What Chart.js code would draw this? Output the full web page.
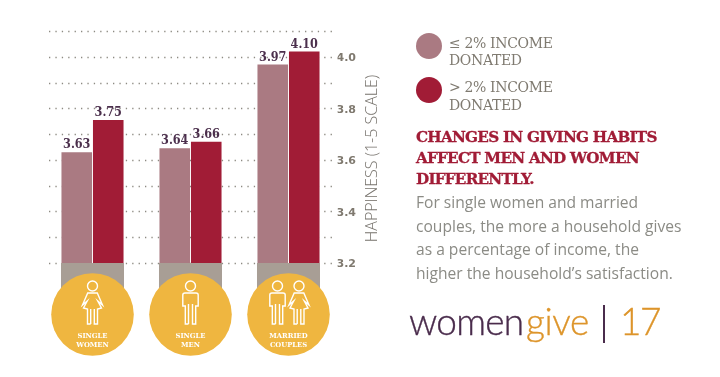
<!DOCTYPE html>
<html>
<head>
<meta charset="utf-8">
<script src="https://cdn.jsdelivr.net/npm/chart.js@4/dist/chart.umd.min.js"></script>
<style>
  html, body { margin: 0; padding: 0; background: #fff; }
  #wrap { position: relative; width: 720px; height: 377px; overflow: hidden; }
  #chart { position: absolute; left: 0; top: 0; }
  .side { position: absolute; white-space: nowrap; }
  .dot { position: absolute; left: 416px; width: 26px; height: 26px; border-radius: 50%; }
  .legendText { left: 449px; font: 14px/17.5px "DejaVu Serif"; color: #7f7a70; letter-spacing: -0.35px; }
  #heading { left: 416px; top: 126.5px; font: bold 15.2px/21.2px "DejaVu Serif"; color: #a11c36; letter-spacing: -0.75px; -webkit-text-stroke: 0.3px #a11c36; }
  #body { left: 416px; top: 191px; font: 15.6px/23.6px "Open Sans"; color: #8b8b85; }
  .logo { top: 299px; font: 300 37px/44px "Lato"; -webkit-text-stroke: 0.35px; }
  #logoWomen { left: 409px; color: #4a2c4c; letter-spacing: -0.75px; }
  #logoGive { left: 526px; color: #dd952b; letter-spacing: -0.4px; }
  #logoNum { left: 620px; color: #dd952b; letter-spacing: -1.5px; }
  #logoBar { position: absolute; left: 602.5px; top: 305px; width: 2.6px; height: 38px; background: #4a2c4c; }
</style>
</head>
<body>
<div id="wrap">
  <canvas id="chart" width="720" height="377"></canvas>
  <div id="legend"></div>
  <div id="heading" class="side"></div>
  <div id="body" class="side"></div>
  <div id="logoWomen" class="side logo">women</div>
  <div id="logoGive" class="side logo">give</div>
  <div id="logoBar"></div>
  <div id="logoNum" class="side logo">17</div>
</div>
<script>
const categories = [['SINGLE', 'WOMEN'], ['SINGLE', 'MEN'], ['MARRIED', 'COUPLES']];
const icons = [['woman'], ['man'], ['man', 'woman']];
const seriesNames = [['≤ 2% INCOME', 'DONATED'], ['> 2% INCOME', 'DONATED']];

// bar heights as drawn; the 4.10 bar only reaches about 4.02 on the printed scale
const lowGiving = [3.63, 3.645, 3.97];
const highGiving = [3.755, 3.67, 4.02];
const lowLabels = ['3.63', '3.64', '3.97'];
const highLabels = ['3.75', '3.66', '4.10'];
const stubs = [[3.0, 3.2], [3.0, 3.2], [3.0, 3.2]];

const tickLabels = { '3.2': '3.2', '3.4': '3.4', '3.6': '3.6', '3.8': '3.8', '4.0': '4.0' };
const axisTitle = 'HAPPINESS (1-5 SCALE)';
const headingLines = ['CHANGES IN GIVING HABITS', 'AFFECT MEN AND WOMEN', 'DIFFERENTLY.'];
const bodyLines = ['For single women and married', 'couples, the more a household gives', 'as a percentage of income, the', 'higher the household’s satisfaction.'];

const LOW = '#aa7a82';
const HIGH = '#a11c36';
const STUB = '#a89e95';
const GOLD = '#efb640';

// side panel
document.getElementById('heading').innerHTML = headingLines.join('<br>');
document.getElementById('body').innerHTML = bodyLines.join('<br>');
document.getElementById('legend').innerHTML = seriesNames.map((n, i) => {
  const top = 33 + i * 43.5;
  return `<div class="dot" style="top:${top}px;background:${i ? HIGH : LOW}"></div>` +
    `<div class="side legendText" style="top:${top + 1.5 + i}px">${n.join('<br>')}</div>`;
}).join('');

function drawPerson(ctx, kind, x, top) {
  ctx.beginPath();
  ctx.arc(x, top + 5, 5, 0, Math.PI * 2);
  if (kind === 'man') {
    ctx.moveTo(x - 2, top + 43);
    ctx.lineTo(x - 5.2, top + 43);
    ctx.lineTo(x - 5.2, top + 25);
    ctx.lineTo(x - 7.7, top + 25);
    ctx.lineTo(x - 7.7, top + 14);
    ctx.quadraticCurveTo(x - 7.7, top + 12, x - 5.5, top + 12);
    ctx.lineTo(x + 5.5, top + 12);
    ctx.quadraticCurveTo(x + 7.7, top + 12, x + 7.7, top + 14);
    ctx.lineTo(x + 7.7, top + 25);
    ctx.lineTo(x + 5.2, top + 25);
    ctx.lineTo(x + 5.2, top + 43);
    ctx.lineTo(x + 2, top + 43);
    ctx.lineTo(x + 2, top + 23);
    ctx.moveTo(x - 2, top + 43);
    ctx.lineTo(x - 2, top + 23);
  } else {
    ctx.moveTo(x - 1.8, top + 43);
    ctx.lineTo(x - 5, top + 43);
    ctx.lineTo(x - 5, top + 28);
    ctx.lineTo(x - 9, top + 27);
    ctx.lineTo(x - 5.2, top + 20);
    ctx.lineTo(x - 10, top + 24);
    ctx.lineTo(x - 4.8, top + 12);
    ctx.lineTo(x + 4.8, top + 12);
    ctx.lineTo(x + 10, top + 24);
    ctx.lineTo(x + 5.2, top + 20);
    ctx.lineTo(x + 9, top + 27);
    ctx.lineTo(x + 5, top + 28);
    ctx.lineTo(x + 5, top + 43);
    ctx.lineTo(x + 1.8, top + 43);
    ctx.lineTo(x + 1.8, top + 28);
    ctx.moveTo(x - 1.8, top + 43);
    ctx.lineTo(x - 1.8, top + 28);
  }
  ctx.stroke();
}

const womengivePlugin = {
  id: 'womengive',
  beforeDatasetsDraw(chart) {
    // dotted rules stop short of the plot edges, so they are drawn by hand from the scale
    const { ctx } = chart;
    const y = chart.scales.y;
    ctx.save();
    ctx.strokeStyle = '#8d8a82';
    ctx.lineWidth = 1.3;
    ctx.setLineDash([1.3, 5.1]);
    y.ticks.forEach(t => {
      if (t.value < 3.15) return;
      const py = Math.round(y.getPixelForValue(t.value)) + 0.5;
      ctx.beginPath();
      ctx.moveTo(49, py);
      ctx.lineTo(333, py);
      ctx.stroke();
    });
    ctx.restore();
  },
  afterDatasetsDraw(chart) {
    const { ctx } = chart;
    const x = chart.scales.x;
    const y = chart.scales.y;
    ctx.save();

    // value labels on top of the bars
    ctx.fillStyle = '#4b2f4c';
    ctx.font = 'bold 12.5px "DejaVu Serif Condensed", "DejaVu Serif"';
    ctx.textAlign = 'center';
    ctx.textBaseline = 'alphabetic';
    [[1, lowLabels], [2, highLabels]].forEach(([idx, labels]) => {
      chart.getDatasetMeta(idx).data.forEach((bar, i) => {
        ctx.fillText(labels[i], bar.x, bar.y - 4);
      });
    });

    // gold badges under each group
    categories.forEach((cat, i) => {
      const cx = x.getPixelForValue(i);
      const cy = y.getPixelForValue(3.0);
      ctx.fillStyle = GOLD;
      ctx.beginPath();
      ctx.arc(cx, cy, 41.3, 0, Math.PI * 2);
      ctx.fill();

      ctx.strokeStyle = '#fff';
      ctx.lineWidth = 1.4;
      const people = icons[i];
      people.forEach((kind, k) => {
        const off = people.length > 1 ? (k ? 10.5 : -11) : 0;
        drawPerson(ctx, kind, cx + off, cy - 33.5);
      });

      ctx.fillStyle = '#fff';
      ctx.font = 'bold 6.8px "DejaVu Serif"';
      ctx.fillText(cat[0], cx, cy + 23.5);
      ctx.fillText(cat[1], cx, cy + 32.5);
    });

    // axis title reads bottom to top, a right axis title would read the other way
    ctx.translate(372.5, 158.5);
    ctx.rotate(-Math.PI / 2);
    ctx.fillStyle = '#77736d';
    ctx.font = '300 16px "Open Sans"';
    ctx.textBaseline = 'middle';
    ctx.fillText(axisTitle, 0, 0);
    ctx.restore();
  }
};

new Chart(document.getElementById('chart'), {
  type: 'bar',
  data: {
    labels: categories.map(c => c.join(' ')),
    datasets: [
      { label: 'stub', data: stubs, backgroundColor: STUB, grouped: false, barPercentage: 0.643, categoryPercentage: 1 },
      { label: seriesNames[0].join(' '), data: lowGiving, base: 3.2, backgroundColor: LOW, barPercentage: 0.97, categoryPercentage: 0.643 },
      { label: seriesNames[1].join(' '), data: highGiving, base: 3.2, backgroundColor: HIGH, barPercentage: 0.97, categoryPercentage: 0.643 },
    ]
  },
  plugins: [womengivePlugin],
  options: {
    responsive: false,
    animation: false,
    layout: { padding: { left: 43.5, top: 31, bottom: 62.5, right: 0 } },
    plugins: { legend: { display: false }, tooltip: { enabled: false } },
    scales: {
      x: { display: false },
      y: {
        position: 'right',
        min: 3.0,
        max: 4.1,
        afterFit: s => { s.width = 382.5; },
        afterBuildTicks: s => {
          s.ticks = [3.0, 3.1, 3.2, 3.3, 3.4, 3.5, 3.6, 3.7, 3.8, 3.9, 4.0, 4.1].map(v => ({ value: v }));
        },
        border: { display: false },
        grid: { display: false, drawTicks: false },
        ticks: {
          padding: -1,
          color: '#7f796f',
          font: { family: 'DejaVu Sans', weight: 'bold', size: 11, lineHeight: '3px' },
          autoSkip: false,
          // empty first line nudges the label down onto its dotted rule
          callback: v => tickLabels[v.toFixed(1)] ? ['', tickLabels[v.toFixed(1)]] : ''
        }
      }
    }
  }
});
</script>
</body>
</html>
